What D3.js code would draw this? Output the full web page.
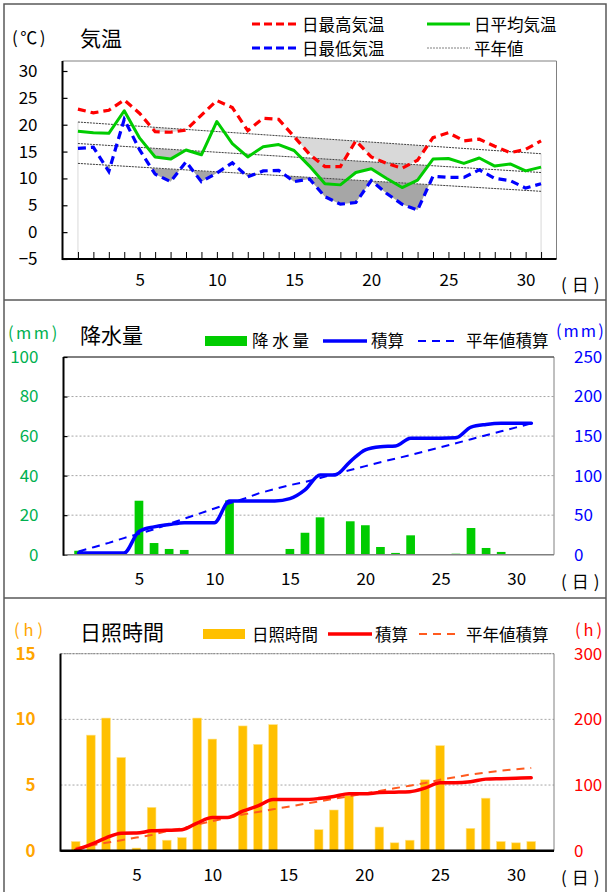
<!DOCTYPE html>
<html>
<head>
<meta charset="utf-8">
<script src="https://cdnjs.cloudflare.com/ajax/libs/d3/7.8.5/d3.min.js"></script>
<style>
  body { margin: 0; background: #fff; }
  svg { display: block; }
  text { font-family: "Noto Sans CJK JP", "Noto Sans", sans-serif; fill: #000; }
</style>
</head>
<body>
<svg id="chart" width="609" height="892"></svg>
<script>
// 日付
const days = d3.range(1, 32);
const dayLabels = [5, 10, 15, 20, 25, 30];

// 気温 (℃)
const tempMax  = [22.9,22.2,22.7,24.6,22.1,18.7,18.6,19.0,21.8,24.5,23.2,18.9,21.2,21.0,17.8,14.5,12.2,12.2,17.0,14.0,12.8,11.9,13.4,17.6,18.5,17.0,17.3,16.0,14.8,15.4,17.0];
const tempMean = [18.8,18.5,18.4,22.6,17.5,14.0,13.6,15.3,14.4,20.6,16.5,14.0,15.9,16.3,15.2,12.3,9.0,8.8,11.1,11.8,10.0,8.3,9.7,13.6,13.7,12.8,13.8,12.3,12.7,11.4,12.1];
const tempMin  = [15.6,15.8,11.3,21.0,15.3,10.8,9.4,13.1,9.4,11.0,12.9,10.3,11.4,11.5,9.4,9.9,6.6,5.2,5.5,9.6,7.2,5.2,4.1,10.4,10.2,10.2,11.6,10.0,9.6,8.2,9.0];
// 平年値 (月初・月末)
const normalDays = [1, 31];
const normalMax  = [20.5, 14.6];
const normalMean = [16.5, 11.1];
const normalMin  = [12.8, 7.6];
const tempTicks = [-5, 0, 5, 10, 15, 20, 25, 30];

// 降水量 (mm)
const precip = [2.0,0,0,0,27.3,5.9,2.9,2.4,0,0,27.5,0,0,0,2.9,11.1,18.9,0,16.9,14.9,3.9,0.9,9.8,0,0,0.5,13.5,3.4,1.4,0,0];
const precipNormalCum = [4,9.5,15,21,26.5,32,39,45.5,52,58.5,65,71,78,83,88,92,97,102,107,112,117,121.5,126,131,136,141,146,151,156,161,166];
const precipTicksL = [0, 20, 40, 60, 80, 100];
const precipTicksR = [0, 50, 100, 150, 200, 250];

// 日照時間 (h)
const sunshine = [0.7,8.8,10.1,7.1,0.2,3.3,0.8,1.0,10.1,8.5,0,9.5,8.1,9.6,0,0,1.6,3.1,4.2,0,1.8,0.6,0.8,5.4,8.0,0,1.7,4.0,0.7,0.6,0.7];
const sunNormalCum = [4,8,12,16,20,24,30,34,40,45,50,55,59,63,67,71,75,79,83,87,91,95,99,103,108,112,116,119,122,124,126];
const sunTicksL = [0, 5, 10, 15];
const sunTicksR = [0, 100, 200, 300];

const svg = d3.select("#chart");
const FONT_NUM = "17px";
const FONT_LEG = "16.5px";
const FONT_TTL = "21px";

// 枠線
svg.append("rect").attr("x", 4).attr("y", 4).attr("width", 602).attr("height", 890)
  .attr("fill", "none").attr("stroke", "#595959").attr("stroke-width", 1.5);
[300, 598].forEach(yy => {
  svg.append("line").attr("x1", 4).attr("x2", 606).attr("y1", yy).attr("y2", yy)
    .attr("stroke", "#595959").attr("stroke-width", 1.5);
});

function label(x, y, txt, opt = {}) {
  return svg.append("text").attr("x", x).attr("y", y)
    .attr("dominant-baseline", "central")
    .attr("text-anchor", opt.anchor || "start")
    .style("font-size", opt.size || FONT_LEG)
    .style("letter-spacing", opt.spacing || null)
    .style("fill", opt.color || "#000")
    .text(txt);
}

function legendLine(x1, x2, y, color, width, dash) {
  svg.append("line").attr("x1", x1).attr("x2", x2).attr("y1", y).attr("y2", y)
    .attr("stroke", color).attr("stroke-width", width)
    .attr("stroke-dasharray", dash || null);
}

function styleAxis(g, size, color) {
  g.select(".domain").remove();
  g.selectAll("text").style("font-size", size).style("fill", color || "#000")
    .style("font-family", '"Noto Sans CJK JP", "Noto Sans", sans-serif');
}

// ================= 気温 =================
{
  const x = d3.scaleLinear().domain([0, 32]).range([62.5, 556.5]);
  const y = d3.scaleLinear().domain([-5, 30]).range([259, 71]);
  const top = 61;

  label(12, 36, "(℃)", { size: "17px", spacing: "2.5px" });
  label(80, 37, "気温", { size: FONT_TTL });

  // 平年値との差の塗りつぶし
  const shades = [
    { vals: tempMax, norm: normalMax, fill: "#d9d9d9", id: "cMax" },
    { vals: tempMean, norm: normalMean, fill: "#bfbfbf", id: "cMean" },
    { vals: tempMin, norm: normalMin, fill: "#a6a6a6", id: "cMin" }
  ];
  const defs = svg.append("defs");
  shades.forEach(s => {
    const nPts = normalDays.map((d, i) => [x(d), y(s.norm[i])]);
    defs.append("clipPath").attr("id", s.id).append("path")
      .attr("d", d3.line()([nPts[0], nPts[1], [x(31), y(-5)], [x(1), y(-5)]]) + "Z");
    const pts = days.map((d, i) => [x(d), y(s.vals[i])]).concat(nPts.slice().reverse());
    svg.append("path").attr("d", d3.line()(pts) + "Z")
      .attr("fill", s.fill).attr("clip-path", `url(#${s.id})`);
  });

  // 月初・月末の縦線
  normalDays.forEach((d, i) => {
    svg.append("line").attr("x1", x(d)).attr("x2", x(d))
      .attr("y1", y(normalMax[i])).attr("y2", y(-5))
      .attr("stroke", "#d9d9d9").attr("stroke-width", 1);
  });

  // 平年値
  [normalMax, normalMean, normalMin].forEach(n => {
    svg.append("path")
      .attr("d", d3.line().x((d, i) => x(normalDays[i])).y(v => y(v))(n))
      .attr("fill", "none").attr("stroke", "#404040").attr("stroke-width", 1)
      .attr("stroke-dasharray", "2,1");
  });

  const line = d3.line().x((v, i) => x(days[i])).y(v => y(v));
  svg.append("path").attr("d", line(tempMean)).attr("fill", "none")
    .attr("stroke", "#00cc00").attr("stroke-width", 3).attr("stroke-linejoin", "round");
  svg.append("path").attr("d", line(tempMax)).attr("fill", "none")
    .attr("stroke", "#ff0000").attr("stroke-width", 3.2).attr("stroke-dasharray", "8,5");
  svg.append("path").attr("d", line(tempMin)).attr("fill", "none")
    .attr("stroke", "#0000ff").attr("stroke-width", 3.2).attr("stroke-dasharray", "8,5");

  // 枠
  svg.append("path").attr("d", `M${x(0)},${top}H${x(32)}V${y(-5)}`)
    .attr("fill", "none").attr("stroke", "#808080").attr("stroke-width", 1);

  const gy = svg.append("g").attr("transform", `translate(${x(0)},0)`)
    .call(d3.axisLeft(y).tickValues(tempTicks).tickSize(-5).tickPadding(25));
  styleAxis(gy, FONT_NUM);
  gy.selectAll("line").attr("stroke", "#000").attr("stroke-width", 1.2);

  const gx = svg.append("g").attr("transform", `translate(0,${y(-5)})`)
    .call(d3.axisBottom(x).tickValues(days).tickSize(-7).tickPadding(15)
      .tickFormat(d => dayLabels.includes(d) ? d : ""));
  styleAxis(gx, FONT_NUM);
  gx.selectAll("line").attr("stroke", "#000").attr("stroke-width", 1);

  svg.append("line").attr("x1", x(0)).attr("x2", x(0)).attr("y1", top).attr("y2", y(-5) + 1)
    .attr("stroke", "#000").attr("stroke-width", 2);
  svg.append("line").attr("x1", x(0)).attr("x2", x(32)).attr("y1", y(-5)).attr("y2", y(-5))
    .attr("stroke", "#000").attr("stroke-width", 2);
  label(561, 283, "(日)", { size: "17px", spacing: "5px" });

  // 凡例
  legendLine(252, 296, 24, "#ff0000", 3, "8,4");
  label(302, 24, "日最高気温");
  legendLine(427, 470, 24, "#00cc00", 3);
  label(474, 24, "日平均気温");
  legendLine(252, 296, 48, "#0000ff", 3, "8,4");
  label(302, 48, "日最低気温");
  legendLine(427, 470, 48, "#808080", 1, "2,1");
  label(474, 48, "平年値");
}

// ================= 降水量 =================
{
  const x = d3.scaleLinear().domain([0, 32.5]).range([63.5, 554]);
  const yL = d3.scaleLinear().domain([0, 100]).range([554.7, 357]);
  const yR = d3.scaleLinear().domain([0, 250]).range([554.7, 357]);
  const bw = 8.7;

  label(8, 332, "(mm)", { size: "16.5px", color: "#00b050", spacing: "2.5px" });
  label(80, 334, "降水量", { size: FONT_TTL });

  // グリッド
  svg.append("g").selectAll("line").data(precipTicksL.slice(1, -1)).join("line")
    .attr("x1", x(0)).attr("x2", x(32.5)).attr("y1", d => yL(d)).attr("y2", d => yL(d))
    .attr("stroke", "#a6a6a6").attr("stroke-width", 1).attr("stroke-dasharray", "2,2");
  svg.append("path").attr("d", `M${x(0)},${yL(100)}H${x(32.5)}V${yL(0)}`)
    .attr("fill", "none").attr("stroke", "#808080").attr("stroke-width", 1);
  svg.append("line").attr("x1", x(0)).attr("x2", x(32.5)).attr("y1", yL(100)).attr("y2", yL(100))
    .attr("stroke", "#404040").attr("stroke-width", 1);

  svg.append("g").selectAll("rect").data(precip).join("rect")
    .attr("x", (v, i) => x(days[i]) - bw / 2).attr("width", bw)
    .attr("y", v => yL(v)).attr("height", v => yL(0) - yL(v))
    .attr("fill", "#00cc00");

  const cum = Array.from(d3.cumsum(precip));
  svg.append("path")
    .attr("d", d3.line().x((v, i) => x(days[i])).y(v => yR(v))(precipNormalCum))
    .attr("fill", "none").attr("stroke", "#0000ff").attr("stroke-width", 2)
    .attr("stroke-dasharray", "8,6");
  svg.append("path")
    .attr("d", d3.line().x((v, i) => x(days[i])).y(v => yR(v)).curve(d3.curveMonotoneX)(cum))
    .attr("fill", "none").attr("stroke", "#0000ff").attr("stroke-width", 3.5)
    .attr("stroke-linejoin", "round").attr("stroke-linecap", "round");

  const gy = svg.append("g").attr("transform", `translate(${x(0)},0)`)
    .call(d3.axisLeft(yL).tickValues(precipTicksL).tickSize(-4).tickPadding(25));
  styleAxis(gy, FONT_NUM, "#00b050");
  gy.selectAll("line").attr("stroke", "#000").attr("stroke-width", 1.2);

  const gr = svg.append("g").attr("transform", `translate(${x(32.5)},0)`)
    .call(d3.axisRight(yR).tickValues(precipTicksR).tickSize(0).tickPadding(20));
  styleAxis(gr, FONT_NUM, "#0000ff");

  const gx = svg.append("g").attr("transform", `translate(0,${yL(0)})`)
    .call(d3.axisBottom(x).tickValues(dayLabels).tickSize(0).tickPadding(18));
  styleAxis(gx, FONT_NUM);

  svg.append("line").attr("x1", x(0)).attr("x2", x(32.5)).attr("y1", yL(0)).attr("y2", yL(0))
    .attr("stroke", "#808080").attr("stroke-width", 1.5);
  svg.append("line").attr("x1", x(0)).attr("x2", x(0)).attr("y1", yL(100)).attr("y2", yL(0) + 1)
    .attr("stroke", "#000").attr("stroke-width", 2);
  label(561, 580, "(日)", { size: "17px", spacing: "5px" });

  // 凡例
  svg.append("rect").attr("x", 205).attr("y", 336).attr("width", 42).attr("height", 10)
    .attr("fill", "#00cc00");
  label(252, 340, "降 水 量");
  legendLine(323, 367, 341, "#0000ff", 3.5);
  label(371, 340, "積算");
  legendLine(418, 455, 341, "#0000ff", 2, "8,6");
  label(466, 340, "平年値積算");
  label(556, 330, "(mm)", { size: "16.5px", color: "#0000ff", spacing: "2px" });
}

// ================= 日照時間 =================
{
  const x = d3.scaleLinear().domain([0, 32.5]).range([60.5, 554]);
  const yL = d3.scaleLinear().domain([0, 15]).range([850.7, 653.7]);
  const yR = d3.scaleLinear().domain([0, 300]).range([850.7, 653.7]);
  const bw = 8.7;

  label(14, 629, "(h)", { size: "16.5px", color: "#ffa500", spacing: "4px" });
  label(80, 631, "日照時間", { size: FONT_TTL });

  svg.append("g").selectAll("line").data(sunTicksL.slice(1)).join("line")
    .attr("x1", x(0)).attr("x2", x(32.5)).attr("y1", d => yL(d)).attr("y2", d => yL(d))
    .attr("stroke", "#a6a6a6").attr("stroke-width", 1).attr("stroke-dasharray", "2,2");
  svg.append("line").attr("x1", x(32.5)).attr("x2", x(32.5)).attr("y1", yL(15)).attr("y2", yL(0))
    .attr("stroke", "#808080").attr("stroke-width", 1);

  svg.append("g").selectAll("rect").data(sunshine).join("rect")
    .attr("x", (v, i) => x(days[i]) - bw / 2).attr("width", bw)
    .attr("y", v => yL(v)).attr("height", v => yL(0) - yL(v))
    .attr("fill", "#ffc000").attr("stroke", "#ffe38a").attr("stroke-width", 0.6);

  const cum = Array.from(d3.cumsum(sunshine));
  svg.append("path")
    .attr("d", d3.line().x((v, i) => x(days[i])).y(v => yR(v))(sunNormalCum))
    .attr("fill", "none").attr("stroke", "#ff5a1e").attr("stroke-width", 2)
    .attr("stroke-dasharray", "8,6");
  svg.append("path")
    .attr("d", d3.line().x((v, i) => x(days[i])).y(v => yR(v)).curve(d3.curveMonotoneX)(cum))
    .attr("fill", "none").attr("stroke", "#ff0000").attr("stroke-width", 3.5)
    .attr("stroke-linejoin", "round").attr("stroke-linecap", "round");

  const gy = svg.append("g").attr("transform", `translate(${x(0)},0)`)
    .call(d3.axisLeft(yL).tickValues(sunTicksL).tickSize(0).tickPadding(25));
  styleAxis(gy, FONT_NUM, "#ffa500");
  gy.selectAll("text").style("font-weight", "bold");

  const gr = svg.append("g").attr("transform", `translate(${x(32.5)},0)`)
    .call(d3.axisRight(yR).tickValues(sunTicksR).tickSize(0).tickPadding(20));
  styleAxis(gr, FONT_NUM, "#ff0000");

  const gx = svg.append("g").attr("transform", `translate(0,${yL(0)})`)
    .call(d3.axisBottom(x).tickValues(dayLabels).tickSize(0).tickPadding(18));
  styleAxis(gx, FONT_NUM);

  svg.append("line").attr("x1", x(0)).attr("x2", x(32.5)).attr("y1", yL(15)).attr("y2", yL(15))
    .attr("stroke", "#808080").attr("stroke-width", 1).attr("stroke-dasharray", "2,1");
  svg.append("line").attr("x1", x(0)).attr("x2", x(32.5)).attr("y1", yL(0)).attr("y2", yL(0))
    .attr("stroke", "#000").attr("stroke-width", 2.5);
  svg.append("line").attr("x1", x(0)).attr("x2", x(0)).attr("y1", yL(15)).attr("y2", yL(0) + 1)
    .attr("stroke", "#000").attr("stroke-width", 2);
  label(561, 876, "(日)", { size: "17px", spacing: "5px" });

  // 凡例
  svg.append("rect").attr("x", 203).attr("y", 629).attr("width", 42).attr("height", 10)
    .attr("fill", "#ffc000");
  label(252, 634, "日照時間");
  legendLine(328, 372, 634, "#ff0000", 3.5);
  label(375, 634, "積算");
  legendLine(419, 455, 634, "#ff5a1e", 2, "8,6");
  label(466, 634, "平年値積算");
  label(575, 629, "(h)", { size: "16.5px", color: "#ff0000", spacing: "3px" });
}
</script>
</body>
</html>
